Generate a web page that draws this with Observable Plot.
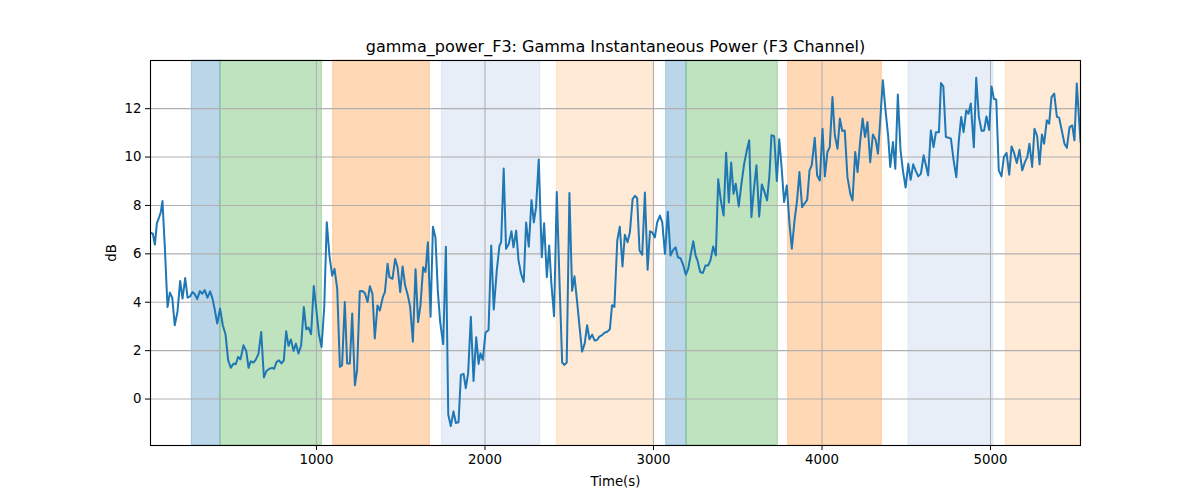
<!DOCTYPE html>
<html>
<head>
<meta charset="utf-8">
<script src="https://cdn.jsdelivr.net/npm/d3@7"></script>
<script src="https://cdn.jsdelivr.net/npm/@observablehq/plot@0.6"></script>
<style>
  html, body { margin: 0; padding: 0; background: #fff; }
  #chart { width: 1200px; height: 500px; }
</style>
</head>
<body>
<div id="chart"></div>
<script>
const titleText = "gamma_power_F3: Gamma Instantaneous Power (F3 Channel)";
const xLabel = "Time(s)";
const yLabel = "dB";
const xTicks = [1000, 2000, 3000, 4000, 5000];
const yTicks = [0, 2, 4, 6, 8, 10, 12];

const times = [
  15,29,41,53,65,76,86,100,116,130,144,159,175,191,205,221,235,250,264,278,292,308,322,337,353,369,383,395,411,428,444,460,476,492,508,521,535,549,567,583,597,610,626,640,656,672,688,703,
  721,737,749,763,777,792,806,820,834,848,864,878,893,909,925,939,953,968,984,1000,1014,1030,1046,1061,1077,1093,1107,1123,1139,1152,1168,1182,1198,1212,1228,1241,1257,1273,1287,1303,1317,1332,1346,1362,1376,
  1394,1406,1422,1433,1451,1467,1481,1497,1511,1526,1542,1556,1572,1588,1603,1617,1633,1647,1661,1677,1691,1706,1720,1734,1752,1768,1782,1797,1813,1827,1843,1857,1873,1886,1900,1916,1932,1948,1962,1973,1987,2003,2021,2037,2052,2070,2086,
  2096,2111,2125,2141,2157,2169,2185,2199,2214,2230,2244,2260,2276,2290,2303,2319,2337,2351,2367,2381,2394,2410,2426,2442,2458,2471,2485,2501,2517,2531,2547,2561,2576,2592,2606,2620,2636,2650,2665,2679,2695,2709,2725,2741,2754,2768,
  2785,2800,2816,2830,2846,2860,2876,2890,2903,2917,2933,2949,2965,2979,2992,3008,3022,3038,3052,3068,3085,3101,3115,3131,3145,3160,3174,3192,3206,3220,3236,3250,3261,3277,3293,3309,3325,3338,3354,3370,3384,3400,3416,3431,3447,3461,
  3475,3488,3506,3522,3538,3554,3568,3581,3597,3611,3627,3643,3659,3674,3688,3700,3716,3732,3746,3760,3775,3791,3807,3821,3837,3852,3866,3882,3898,3912,3926,3939,3957,3971,3987,4003,4017,4032,4046,4062,4076,4092,4106,4120,4135,4151,
  4168,4181,4197,4211,4227,4241,4255,4270,4286,4302,4318,4332,4346,4361,4377,4393,4405,4421,4435,4450,4466,4480,4496,4512,4526,4541,4555,4571,4587,4603,4619,4630,4646,4662,4676,4694,4706,4720,4735,4751,4765,4781,4797,4812,4826,4840,
  4856,4869,4883,4901,4915,4931,4947,4962,4976,4992,5006,5020,5034,5049,5065,5079,5095,5111,5125,5140,5156,5172,5188,5204,5218,5231,5247,5261,5277,5291,5305,5318,5334,5348,5362,5378,5394,5407,5423,5439,5453,5469,5485,5498,5512,5534
];

const powerDb = [
  6.87,6.83,6.38,7.27,7.49,7.72,8.18,6.28,3.8,4.4,4.19,3.05,3.6,4.88,4.15,5.0,4.19,4.24,4.42,4.33,4.13,4.46,4.35,4.5,4.19,4.45,4.15,3.74,3.12,3.74,3.05,2.68,1.6,1.29,1.47,1.44,1.74,1.64,2.22,1.99,1.29,1.56,1.51,1.63,1.88,2.77,0.89,1.16,
  1.25,1.29,1.25,1.53,1.6,1.47,1.6,2.8,2.2,2.46,1.99,2.29,1.88,2.22,3.8,2.88,2.95,2.68,4.67,3.63,2.7,2.15,3.8,7.31,5.93,5.1,5.38,4.56,1.33,1.4,4.01,1.47,1.47,3.53,0.57,1.19,4.45,4.46,4.38,4.01,4.66,4.35,2.5,3.87,3.66,
  4.22,4.42,5.59,5.04,4.97,5.79,5.45,4.42,5.48,4.7,4.29,3.81,2.37,5.36,3.18,3.86,5.45,5.25,6.48,3.40,7.12,6.68,4.49,3.18,2.27,6.29,-0.64,-1.12,-0.51,-0.99,-0.96,1.00,1.04,0.45,1.07,3.4,0.75,2.55,1.45,1.89,1.62,2.74,2.85,6.34,3.70,5.32,6.34,
  6.48,9.53,6.21,6.41,6.93,6.27,6.96,5.73,5.18,4.84,7.3,6.3,8.22,7.3,7.92,9.9,5.86,7.26,5.04,6.34,4.77,3.42,8.56,4.9,1.51,1.41,1.51,8.51,4.47,5.07,4.0,2.99,1.96,2.3,3.05,2.47,2.66,2.42,2.44,2.58,2.64,2.74,2.78,2.88,3.88,3.81,
  6.55,7.12,5.48,6.79,6.48,6.89,8.26,8.4,8.3,6.14,5.96,8.53,5.34,6.93,6.89,6.68,7.3,7.58,7.3,6.0,7.74,5.93,6.14,6.27,5.86,5.82,5.59,5.14,5.38,5.93,6.52,5.93,5.73,5.25,5.21,5.52,5.52,5.73,6.3,5.93,9.08,8.19,7.58,10.18,8.12,9.77,
  8.48,8.9,7.96,8.9,9.72,10.28,10.69,7.52,8.76,9.66,7.54,8.87,8.55,8.21,9.24,10.9,10.86,9.01,10.74,9.59,8.14,8.83,7.24,6.21,7.38,8.21,9.38,7.93,8.1,8.23,9.45,9.66,10.8,9.24,9.03,11.17,9.2,10.21,10.41,12.48,10.9,10.34,11.59,11.08,11.1,9.17,
  8.48,8.21,10.21,9.38,10.69,11.59,10.83,11.45,9.79,10.93,10.72,10.14,11.59,13.17,11.93,10.83,9.59,10.62,9.52,12.58,10.28,9.45,8.74,9.72,9.06,9.7,9.45,9.2,9.31,10.07,9.59,9.24,11.1,10.41,11.03,11.03,13.06,12.92,10.83,10.8,10.76,9.86,9.17,10.69,11.66,11.03,
  11.93,11.79,12.21,10.41,13.28,11.66,11.08,11.1,11.68,11.12,12.92,12.41,12.37,9.45,9.2,10.0,10.17,9.27,10.44,10.17,9.75,10.3,9.45,9.79,10.0,10.55,9.59,11.17,10.86,9.7,10.93,10.55,11.52,11.38,12.48,12.62,11.66,11.63,11.1,10.55,10.38,11.24,11.31,10.69,13.04,10.62
];

// shaded intervals
const spanStart = [260, 430, 1099, 1744, 2427, 3075, 3196, 3799, 4513, 5091];
const spanEnd   = [430, 1032, 1673, 2328, 3001, 3196, 3738, 4355, 5018, 5534];
const spanColor = ["#1f77b4", "#2ca02c", "#ff7f0e", "#aec7e8", "#ffbb78",
                   "#1f77b4", "#2ca02c", "#ff7f0e", "#aec7e8", "#ffbb78"];

const series = times.map((t, i) => ({t, v: powerDb[i]}));
const spans = spanStart.map((s, i) => ({x1: s, x2: spanEnd[i], c: spanColor[i]}));

const gridColor = "#b0b0b0";

const chart = Plot.plot({
  width: 1200,
  height: 500,
  marginLeft: 150,
  marginRight: 120,
  marginTop: 60,
  marginBottom: 55,
  style: {fontFamily: "DejaVu Sans, sans-serif", fontSize: "13.3px", color: "#000", background: "#fff"},
  x: {domain: [15, 5534]},
  y: {domain: [-1.92, 13.99]},
  marks: [
    Plot.rect(spans, {x1: "x1", x2: "x2", fill: "c", fillOpacity: 0.3, stroke: "c", strokeOpacity: 0.3, strokeWidth: 1}),
    Plot.gridX(xTicks, {stroke: gridColor, strokeOpacity: 1, strokeWidth: 1.1}),
    Plot.gridY(yTicks, {stroke: gridColor, strokeOpacity: 1, strokeWidth: 1.1}),
    Plot.line(series, {x: "t", y: "v", stroke: "#1f77b4", strokeWidth: 2, clip: true}),
    Plot.frame({stroke: "#000", strokeWidth: 1.1}),
    Plot.axisX({ticks: xTicks, tickSize: 5, tickPadding: 4, tickFormat: d => String(d), label: xLabel, labelAnchor: "center", labelArrow: "none", labelOffset: 40, fontSize: 13.3}),
    Plot.axisY({ticks: yTicks, tickSize: 5, tickPadding: 4, tickFormat: d => String(d), label: yLabel, labelAnchor: "center", labelArrow: "none", labelOffset: 44, fontSize: 13.3}),
    Plot.text([titleText], {text: d => d, frameAnchor: "top", lineAnchor: "bottom", dy: -9, fontSize: 16, fill: "#000"})
  ]
});
document.getElementById("chart").appendChild(chart);
</script>
</body>
</html>
